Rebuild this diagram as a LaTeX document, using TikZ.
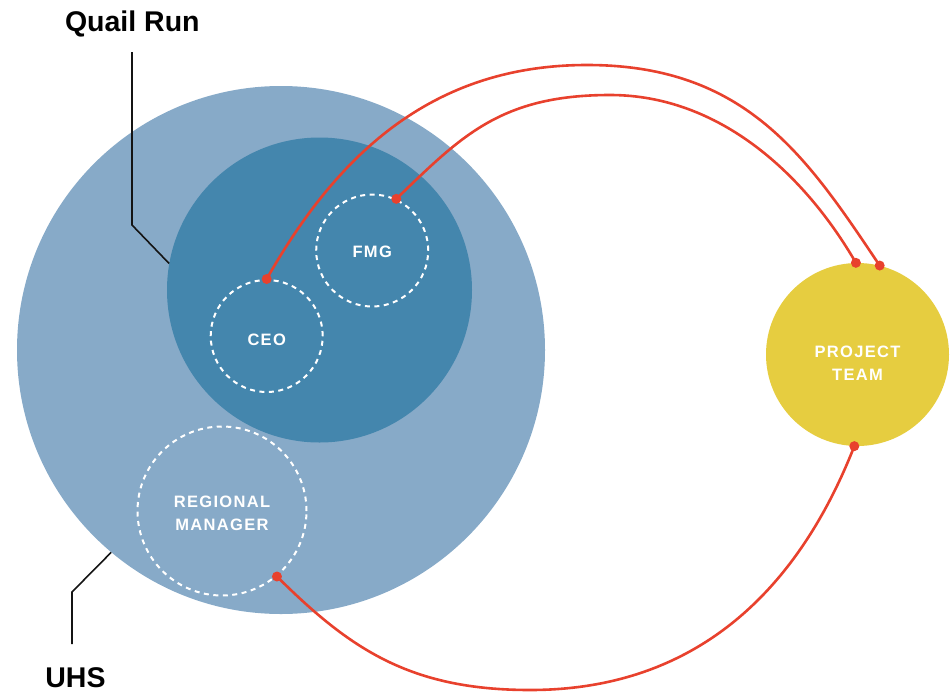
\documentclass[tikz,border=0pt]{standalone}
\usepackage{fontspec}
\setmainfont{Liberation Sans}
\newfontfamily\labfont[LetterSpace=8]{Liberation Sans}
\definecolor{uhsblue}{RGB}{135,170,200}
\definecolor{qrblue}{RGB}{68,134,173}
\definecolor{ptyellow}{RGB}{230,205,64}
\definecolor{redline}{RGB}{232,65,45}
\definecolor{inkblack}{RGB}{20,20,20}
\begin{document}
\begin{tikzpicture}[x=1pt,y=-1pt,
  bigcirc/.style={circle,inner sep=0pt,draw=none},
  dashcirc/.style={circle,inner sep=0pt,draw=white,line width=2pt,dash pattern=on 5pt off 4.5pt},
  circtext/.style={text=white,font=\labfont\bfseries\fontsize{16.5}{23}\selectfont,align=center,inner sep=0pt},
  title/.style={font=\bfseries\fontsize{28.5}{30}\selectfont,text=black,inner sep=0pt,anchor=base},
  leader/.style={draw=inkblack,line width=1.6pt},
  relation/.style={draw=redline,line width=2.6pt},
  reddot/.style={fill=redline}
]
\useasboundingbox (0,0) rectangle (951,694);
% big circles
\node[bigcirc,fill=uhsblue,minimum size=528pt] (uhs) at (281,350) {};
\node[bigcirc,fill=qrblue,minimum size=305pt] (qr) at (319.5,290) {};
\node[bigcirc,fill=ptyellow,minimum size=183pt] (pt) at (857.5,354.5) {};
\node[circtext] (pttext) at ([yshift=-9pt]pt.center) {PROJECT\\TEAM};
% dashed circles
\node[dashcirc,minimum size=112pt] (ceo) at (266.7,336) {};
\node[circtext] (ceotext) at ([yshift=-3.5pt]ceo.center) {CEO};
\node[dashcirc,minimum size=112pt] (fmg) at (372.2,250.5) {};
\node[circtext] (fmgtext) at ([yshift=-1.5pt]fmg.center) {FMG};
\node[dashcirc,minimum size=169pt] (rm) at (222,511) {};
\node[circtext] (rmtext) at ([yshift=-2.5pt]rm.center) {REGIONAL\\MANAGER};
% titles
\node[title] (qlabel) at (132.3,31) {Quail Run};
\node[title] (ulabel) at (75.5,687.5) {UHS};
% leader lines
\coordinate (qtop) at (132,52);
\coordinate (qbend) at (132,225);
\draw[leader] (qtop) -- (qbend) -- (qr.170);
\coordinate (utop) at (72,644);
\coordinate (ubend) at (72,592);
\draw[leader] (utop) -- (ubend) -- (uhs.230);
% red relations
\coordinate (peakA) at (587,65);
\coordinate (peakB) at (610,95);
\coordinate (lowC) at (530,690);
\draw[relation] (ceo.north) .. controls (340.5,148.5) and (437,65) .. (peakA)
   .. controls (747,65) and (807.5,158) .. (pt.76);
\draw[relation] (fmg.65) .. controls (460.7,136.9) and (500,95) .. (peakB)
   .. controls (720,95) and (805,175) .. (pt.91);
\draw[relation] (rm.-50) .. controls (350,649) and (410,690) .. (lowC)
   .. controls (700,690) and (799.5,586) .. (pt.-92);
% dots
\fill[reddot] (ceo.north) circle[radius=5pt];
\fill[reddot] (fmg.65) circle[radius=5pt];
\fill[reddot] (rm.-50) circle[radius=5pt];
\fill[reddot] (pt.76) circle[radius=5pt];
\fill[reddot] (pt.91) circle[radius=5pt];
\fill[reddot] (pt.-92) circle[radius=5pt];
\end{tikzpicture}
\end{document}
